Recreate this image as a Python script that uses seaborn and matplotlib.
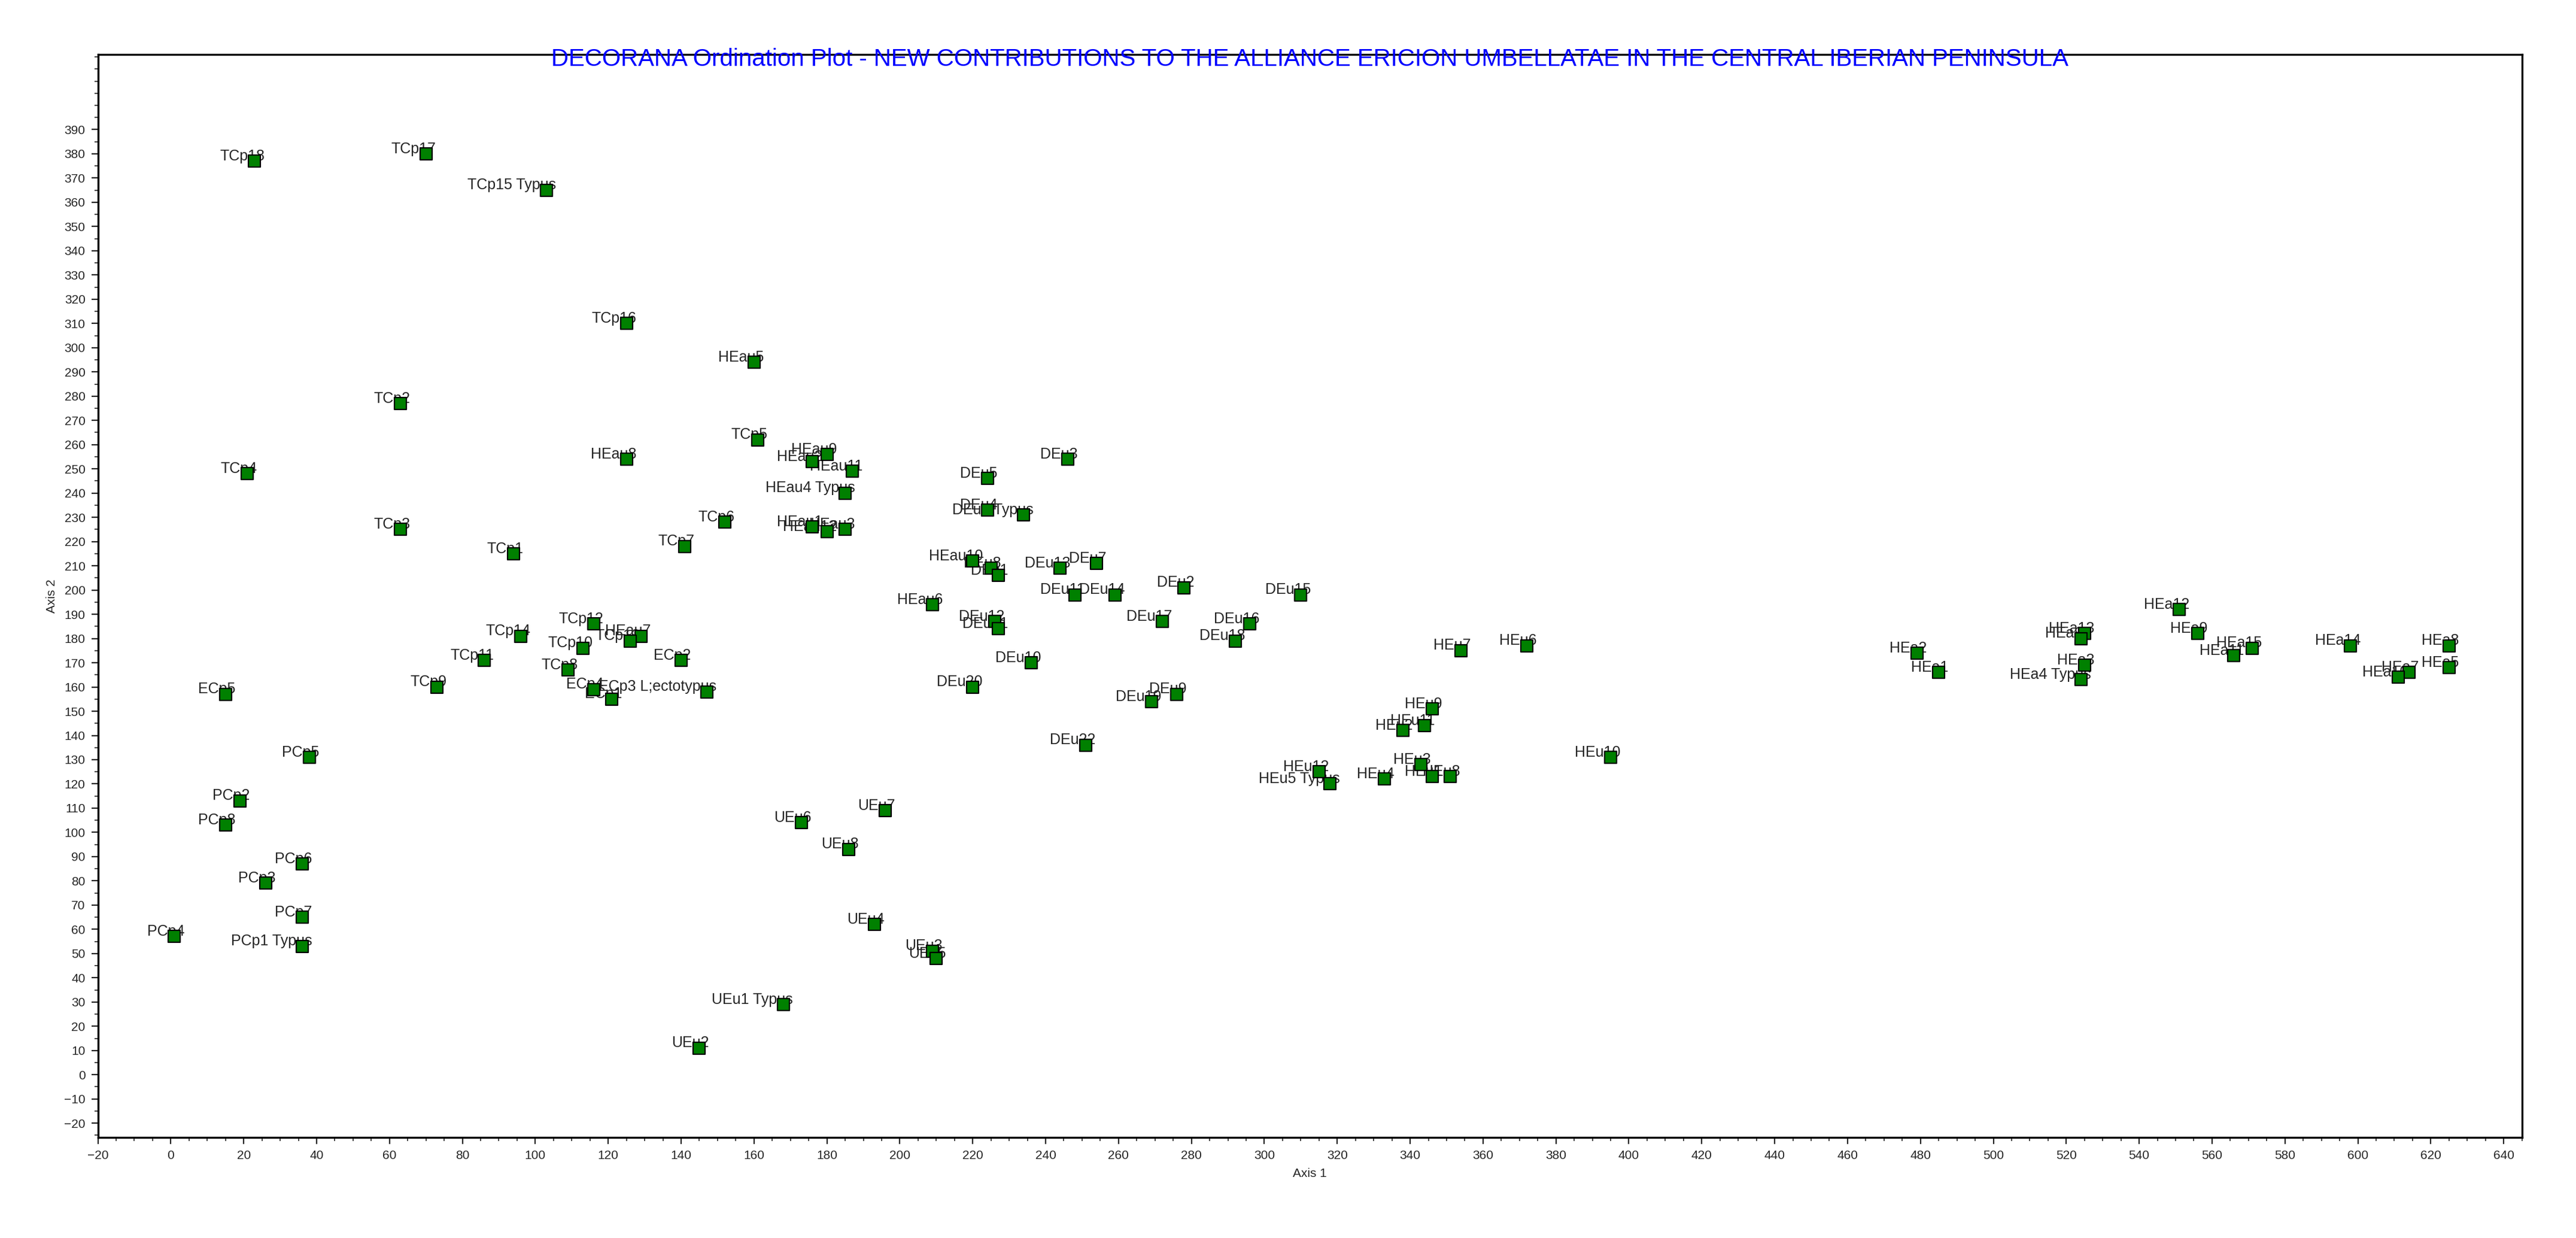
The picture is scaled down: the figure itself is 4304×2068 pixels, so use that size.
import numpy as np
import pandas as pd
from matplotlib import pyplot as plt
from matplotlib.ticker import MultipleLocator
import seaborn as sns

sns.set_style('white')
plt.rcParams['font.family'] = ['Liberation Sans', 'DejaVu Sans']

names = [
    'TCp18', 'TCp17', 'TCp15 Typus', 'TCp16', 'HEau5', 'TCp2', 'TCp5',
    'HEau2', 'HEau9', 'HEau11', 'HEau8', 'TCp4', 'HEau4 Typus', 'DEu3',
    'DEu5', 'DEu4', 'DEu6 Typus', 'TCp3', 'TCp6', 'HEau1', 'HEau12', 'HEau3',
    'TCp1', 'TCp7', 'HEau10', 'DEu8', 'DEu1', 'DEu13', 'DEu7', 'HEau6',
    'DEu11', 'DEu14', 'DEu2', 'DEu15', 'DEu12', 'DEu21', 'DEu17', 'DEu16',
    'DEu18', 'DEu10', 'DEu20', 'DEu9', 'DEu19', 'DEu22',
    'HEu12', 'HEu5 Typus', 'HEu4', 'HEu3', 'HEu1', 'HEu8', 'HEu9', 'HEu2',
    'HEu11', 'HEu10', 'HEu7', 'HEu6',
    'HEa2', 'HEa1', 'HEa13', 'HEa18', 'HEa3', 'HEa4 Typus', 'HEa12', 'HEa9',
    'HEa11', 'HEa15', 'HEa14', 'HEa8', 'HEa5', 'HEa7', 'HEa10',
    'TCp12', 'HEau7', 'TCp13', 'TCp10', 'TCp14', 'TCp11', 'ECp2', 'TCp8',
    'ECp4', 'ECp1', 'ECp3 L;ectotypus', 'TCp9', 'ECp5',
    'PCp5', 'PCp2', 'PCp8', 'UEu7', 'UEu6', 'UEu8', 'PCp6', 'PCp3', 'PCp7',
    'PCp4', 'PCp1 Typus', 'UEu4', 'UEu3', 'UEu5', 'UEu1 Typus', 'UEu2',
]
axis1 = [
    23, 70, 103, 125, 160, 63, 161,
    176, 180, 187, 125, 21, 185, 246,
    224, 224, 234, 63, 152, 176, 180, 185,
    94, 141, 220, 225, 227, 244, 254, 209,
    248, 259, 278, 310, 226, 227, 272, 296,
    292, 236, 220, 276, 269, 251,
    315, 318, 333, 343, 346, 351, 346, 338,
    344, 395, 354, 372,
    479, 485, 525, 524, 525, 524, 551, 556,
    566, 571, 598, 625, 625, 614, 611,
    116, 129, 126, 113, 96, 86, 140, 109,
    116, 121, 147, 73, 15,
    38, 19, 15, 196, 173, 186, 36, 26, 36,
    1, 36, 193, 209, 210, 168, 145,
]
axis2 = [
    377, 380, 365, 310, 294, 277, 262,
    253, 256, 249, 254, 248, 240, 254,
    246, 233, 231, 225, 228, 226, 224, 225,
    215, 218, 212, 209, 206, 209, 211, 194,
    198, 198, 201, 198, 187, 184, 187, 186,
    179, 170, 160, 157, 154, 136,
    125, 120, 122, 128, 123, 123, 151, 142,
    144, 131, 175, 177,
    174, 166, 182, 180, 169, 163, 192, 182,
    173, 176, 177, 177, 168, 166, 164,
    186, 181, 179, 176, 181, 171, 171, 167,
    159, 155, 158, 160, 157,
    131, 113, 103, 109, 104, 93, 87, 79, 65,
    57, 53, 62, 51, 48, 29, 11,
]

df = pd.DataFrame({'name': names, 'Axis 1': axis1, 'Axis 2': axis2})

fig, ax = plt.subplots(figsize=(21.52, 10.34), dpi=200)
fig.subplots_adjust(left=0.038, right=0.979, top=0.956, bottom=0.081)

sns.scatterplot(data=df, x='Axis 1', y='Axis 2', marker='s', s=48,
                color='#008000', edgecolor='black', linewidth=0.8, ax=ax, zorder=3)
for n, x, y in zip(names, axis1, axis2):
    ax.annotate(n, (x, y), xytext=(6, 3), textcoords='offset points',
                ha='right', va='center', fontsize=9, zorder=2)

ax.set_xlim(-20, 645)
ax.set_ylim(-26, 421)
ax.xaxis.set_major_locator(MultipleLocator(20))
ax.xaxis.set_minor_locator(MultipleLocator(5))
ax.yaxis.set_minor_locator(MultipleLocator(5))
ax.set_yticks(np.arange(-20, 400, 10))
ax.tick_params(which='both', direction='out', bottom=True, left=True, labelsize=7.5)
ax.tick_params(which='major', length=4)
ax.tick_params(which='minor', length=2)
ax.set_xlabel('Axis 1', fontsize=7.5)
ax.set_ylabel('Axis 2', fontsize=7.5)
for s in ax.spines.values():
    s.set_color('black')
    s.set_linewidth(1.2)
ax.set_title('DECORANA Ordination Plot - NEW CONTRIBUTIONS TO THE ALLIANCE ERICION UMBELLATAE IN THE CENTRAL IBERIAN PENINSULA',
             color='#0000ff', fontsize=14.5, y=0.997, va='top')

fig.savefig('out.png', dpi=200)
